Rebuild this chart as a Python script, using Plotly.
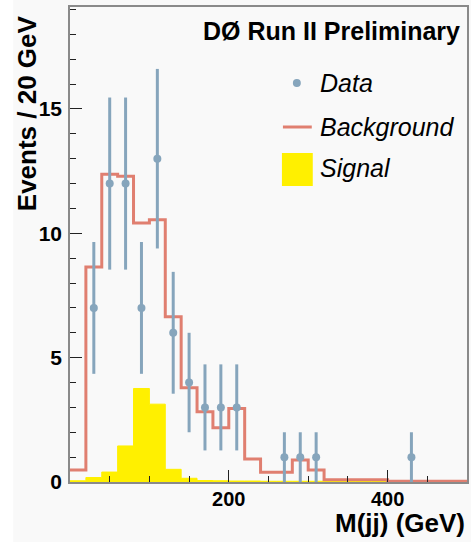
import plotly.graph_objects as go

# ---------------- data ----------------
bin_lo = [0, 20, 40, 60, 80, 100, 120, 140, 160, 180, 200, 220, 240, 260, 280,
          300, 320, 340, 360, 380, 400, 420, 440, 460, 480]
bin_hi_last = 500

background = [0.48, 8.65, 12.37, 12.29, 10.41, 10.55, 6.64, 3.79, 2.82, 2.18,
              2.96, 0.92, 0.39, 0.39, 0.88, 0.48, 0.09, 0.09, 0.09, 0.09,
              0.03, 0.03, 0.03, 0.03, 0.03]

signal = [0.05, 0.18, 0.40, 1.45, 3.76, 3.13, 0.51, 0.15, 0.06, 0.05,
          0.04, 0.04, 0.03, 0.03, 0.03, 0.03, 0.02, 0.02, 0.02, 0.02,
          0.01, 0.0, 0.0, 0.0, 0.0]

data_x = [30, 50, 70, 90, 110, 130, 150, 170, 190, 210, 270, 290, 310, 430]
data_y = [7, 12, 12, 7, 13, 6, 4, 3, 3, 3, 1, 1, 1, 1]
data_err = [2.65, 3.46, 3.46, 2.65, 3.61, 2.45, 2.0, 1.73, 1.73, 1.73, 1.0, 1.0, 1.0, 1.0]

x_tickvals = [0, 200, 400]
x_ticktext = ["", "200", "400"]
y_tickvals = [0, 5, 10, 15]
y_ticktext = ["0", "5", "10", "15"]

# ---------------- style ----------------
W, H = 471, 542
ML, MR, MT, MB = 70, 2, 7, 60
PW, PH = W - ML - MR, H - MT - MB
FONT = "Liberation Sans, Arial, sans-serif"
C_DATA = "#86a5bc"
C_BKG = "#e07f70"
C_SIG = "#fff000"
C_BG = "#f9f9f9"


def px_x(px):
    return (px - ML) / PW


def px_y(py):
    return (H - MB - py) / PH


step_x = bin_lo + [bin_hi_last]
fig = go.Figure()

fig.add_trace(go.Scatter(
    x=step_x, y=signal + [signal[-1]], mode="lines", line_shape="hv",
    line=dict(color=C_SIG, width=1), fill="tozeroy", fillcolor=C_SIG,
    name="Signal", showlegend=False, hoverinfo="skip"))

fig.add_trace(go.Scatter(
    x=step_x, y=background + [background[-1]], mode="lines", line_shape="hv",
    line=dict(color=C_BKG, width=3), name="Background", showlegend=False))

fig.add_trace(go.Scatter(
    x=data_x, y=data_y, mode="markers",
    marker=dict(color=C_DATA, size=8),
    error_y=dict(type="data", array=data_err, color=C_DATA, thickness=3, width=0),
    name="Data", showlegend=False))

fig.update_layout(
    width=W, height=H,
    margin=dict(l=ML, r=MR, t=MT, b=MB, pad=0),
    paper_bgcolor=C_BG, plot_bgcolor=C_BG,
    font=dict(family=FONT, color="black"),
    showlegend=False,
    xaxis=dict(
        range=[0, 500], showgrid=False, zeroline=False,
        showline=True, linecolor="#8a8a8a", linewidth=1.5, mirror=True,
        tickmode="array", tickvals=x_tickvals, ticktext=x_ticktext,
        ticks="inside", ticklen=12, tickwidth=1, tickcolor="#222",
        minor=dict(dtick=50, ticks="inside", ticklen=6, tickwidth=1, tickcolor="#222"),
        tickfont=dict(family=FONT, size=20, color="black", weight="bold"),
        ticklabelstandoff=-2,
    ),
    yaxis=dict(
        range=[0, 19.1], showgrid=False, zeroline=False,
        showline=True, linecolor="#8a8a8a", linewidth=1.5, mirror=True,
        tickmode="array", tickvals=y_tickvals, ticktext=y_ticktext,
        ticks="inside", ticklen=12, tickwidth=1, tickcolor="#222",
        minor=dict(dtick=1, ticks="inside", ticklen=6, tickwidth=1, tickcolor="#222"),
        tickfont=dict(family=FONT, size=21, color="black", weight="bold"),
        ticklabelstandoff=2,
    ),
)

# white strip at far left of the canvas
fig.add_shape(type="rect", xref="paper", yref="paper",
              x0=px_x(-5), x1=px_x(13), y0=px_y(H + 5), y1=px_y(-5),
              fillcolor="white", line=dict(width=0), layer="below")

annos = []
# axis titles
annos.append(dict(text="<b>Events / 20 GeV</b>", textangle=-90,
                  xref="paper", yref="paper", x=px_x(27), y=px_y(13),
                  xanchor="center", yanchor="top", showarrow=False,
                  font=dict(family=FONT, size=26, color="black")))
annos.append(dict(text="<b>M(jj) (GeV)</b>",
                  xref="paper", yref="paper", x=px_x(468), y=px_y(523),
                  xanchor="right", yanchor="middle", showarrow=False,
                  borderpad=0,
                  font=dict(family=FONT, size=26, color="black")))
# header
annos.append(dict(text="<b>DØ Run II Preliminary</b>",
                  xref="paper", yref="paper", x=px_x(464), y=px_y(31),
                  xanchor="right", yanchor="middle", showarrow=False,
                  font=dict(family=FONT, size=25, color="black")))
# legend labels
for label, cy in [("Data", 83), ("Background", 127), ("Signal", 168)]:
    annos.append(dict(text=f"<i>{label}</i>",
                      xref="paper", yref="paper", x=px_x(319), y=px_y(cy),
                      xanchor="left", yanchor="middle", showarrow=False,
                      font=dict(family=FONT, size=25, color="black")))
fig.update_layout(annotations=annos)

# legend glyphs
fig.add_shape(type="circle", xref="paper", yref="paper",
              x0=px_x(294), x1=px_x(302), y0=px_y(87), y1=px_y(79),
              fillcolor=C_DATA, line=dict(width=0))
fig.add_shape(type="line", xref="paper", yref="paper",
              x0=px_x(284), x1=px_x(313), y0=px_y(127), y1=px_y(127),
              line=dict(color=C_BKG, width=3))
fig.add_shape(type="rect", xref="paper", yref="paper",
              x0=px_x(283), x1=px_x(314), y0=px_y(186), y1=px_y(153),
              fillcolor=C_SIG, line=dict(width=0))

fig.write_html("out.html")
